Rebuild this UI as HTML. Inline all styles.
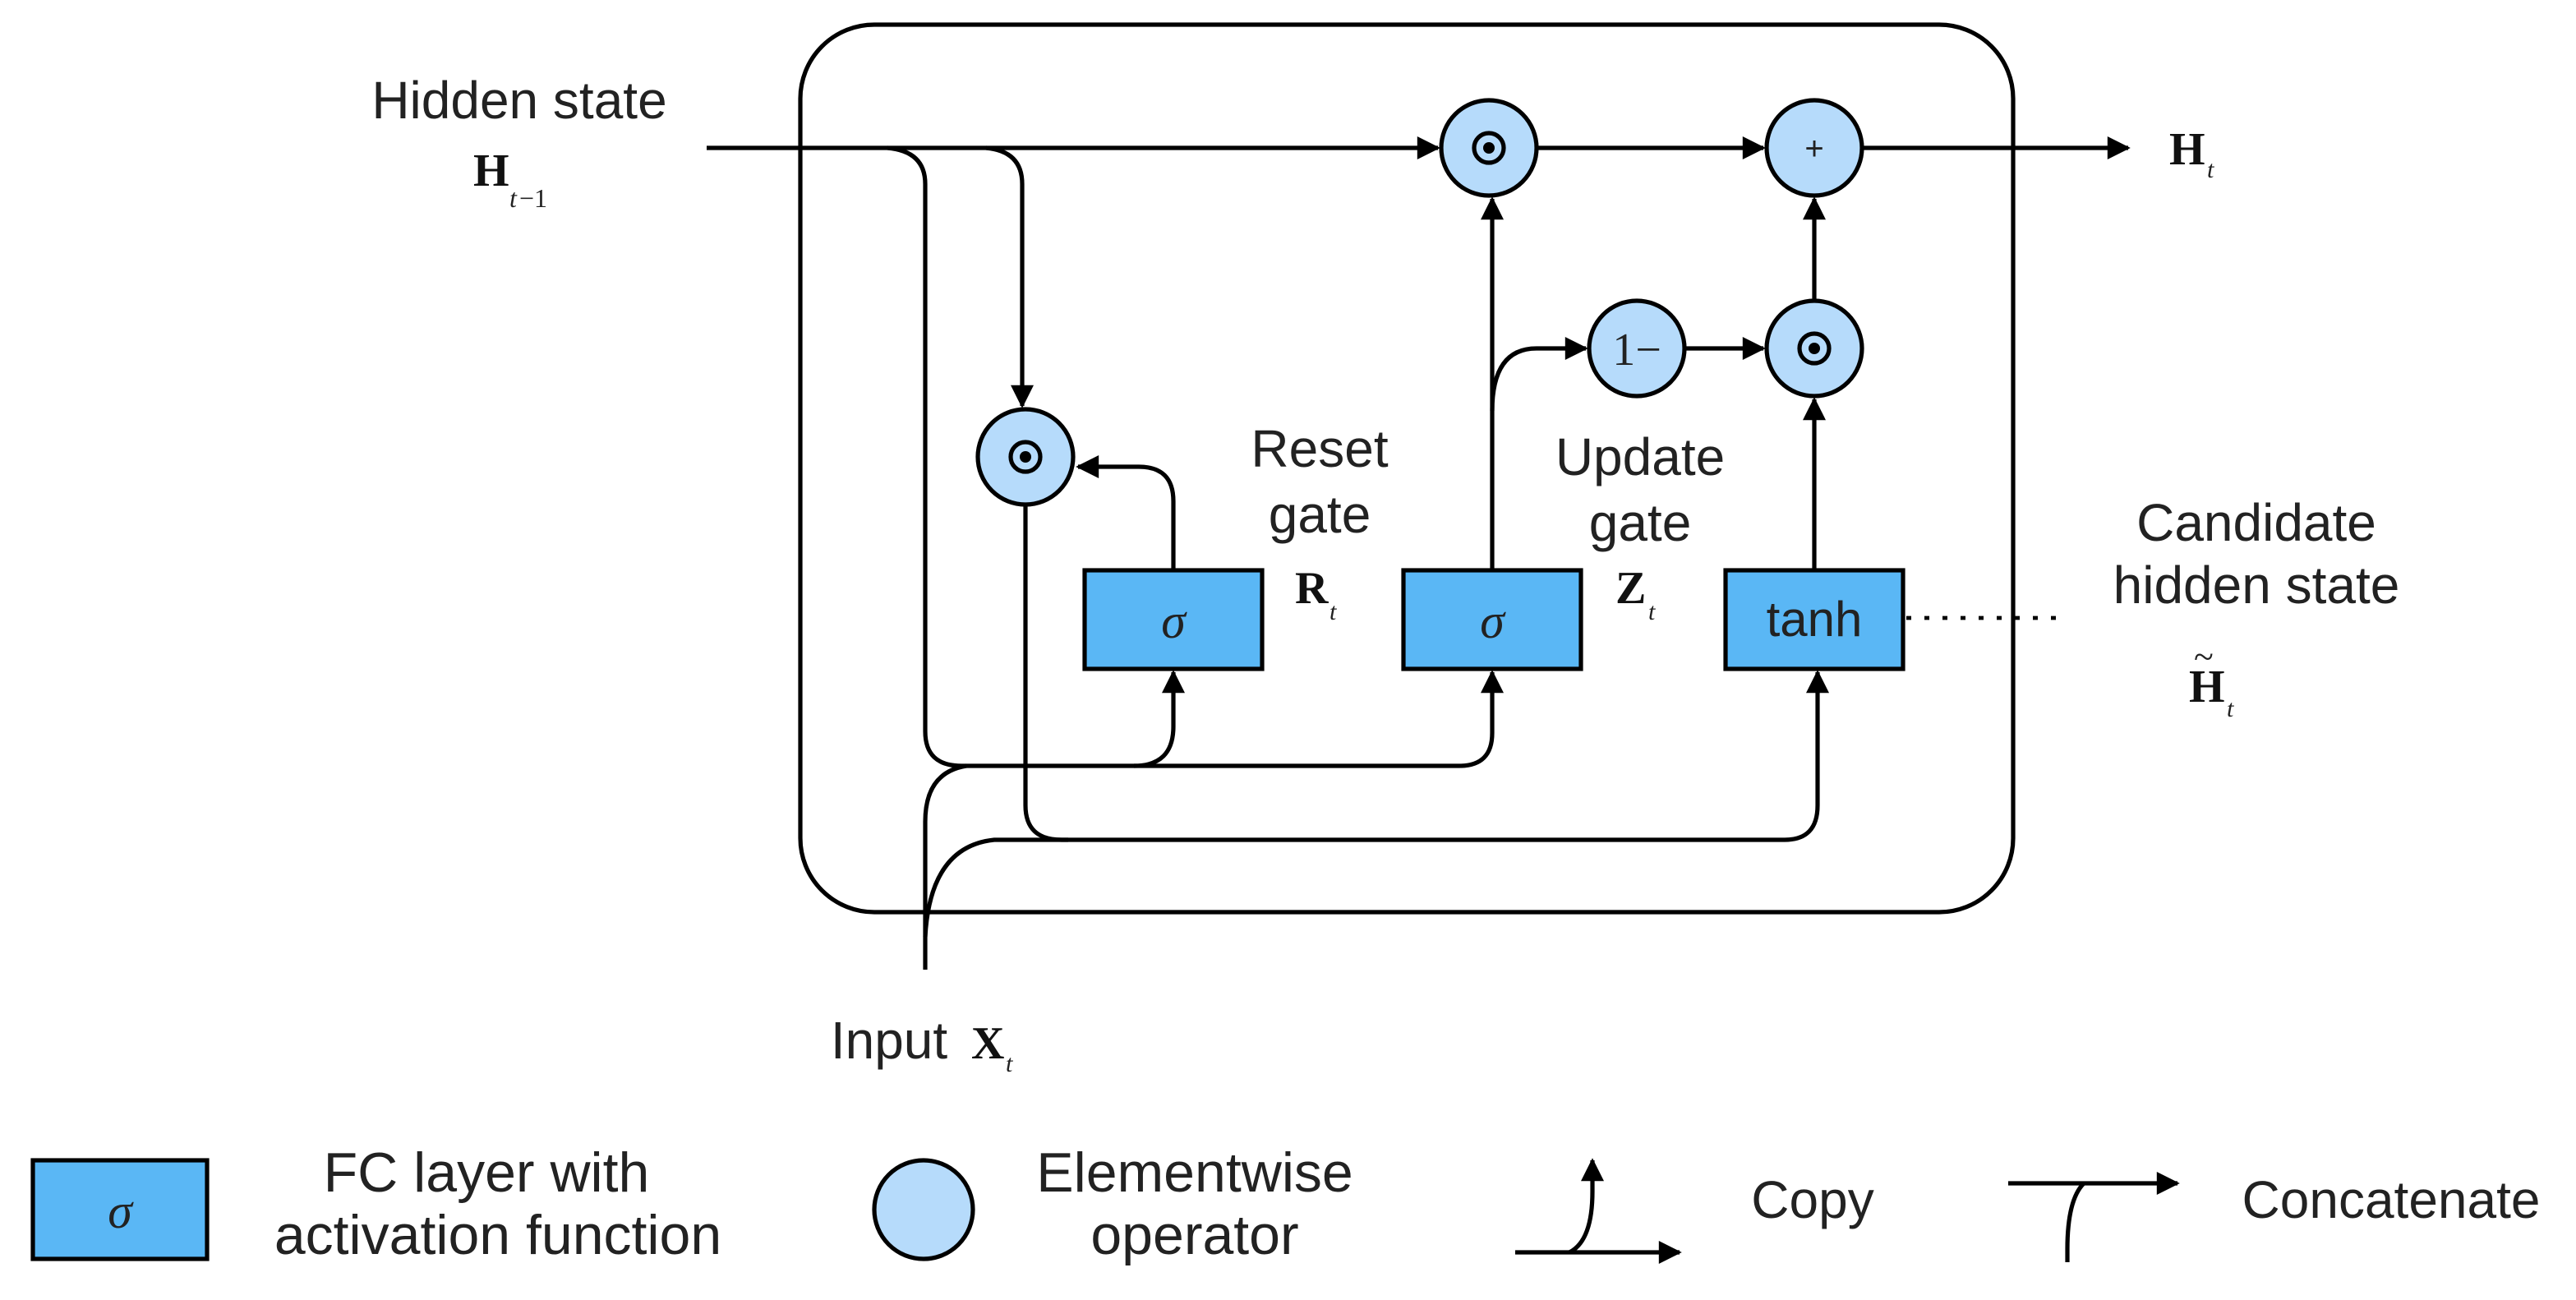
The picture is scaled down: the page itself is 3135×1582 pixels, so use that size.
<!DOCTYPE html>
<html><head><meta charset="utf-8"><style>
html,body{margin:0;padding:0;background:#fff;}
svg{display:block;}
text{font-family:"Liberation Sans",sans-serif;fill:#222;}
.s{font-family:"Liberation Serif",serif;font-weight:bold;fill:#111;}
</style></head><body>
<svg width="3135" height="1582" viewBox="0 0 1567.5 791" xmlns="http://www.w3.org/2000/svg">
<defs>
<marker id="b" viewBox="0 0 10 10" refX="9" refY="5" markerWidth="16" markerHeight="14" orient="auto" markerUnits="userSpaceOnUse">
<path d="M0,0 L10,5 L0,10 z" fill="#000"/>
</marker>
</defs>
<g fill="none" stroke="#000" stroke-width="2.6">
<rect x="487" y="15" width="738" height="540" rx="45"/>
<path d="M430,90 L875,90" marker-end="url(#b)"/>
<path d="M935,90 L1073,90" marker-end="url(#b)"/>
<path d="M1133,90 L1295,90" marker-end="url(#b)"/>
<path d="M540,90 Q563,92 563,112 L563,445 Q563,466 585,466 L888,466 Q908,466 908,446 L908,409" marker-end="url(#b)"/>
<path d="M690,466 Q714,466 714,442 L714,409" marker-end="url(#b)"/>
<path d="M600,90 Q622,92 622,112 L622,247" marker-end="url(#b)"/>
<path d="M624,307 L624,490 Q624,511 646,511 L1086,511 Q1106,511 1106,490 L1106,409" marker-end="url(#b)"/>
<path d="M563,590 L563,500 Q563,470 588,466"/>
<path d="M563,570 Q566,515 605,511 L650,511"/>
<path d="M714,347 L714,305 Q714,284 693,284 L656,284" marker-end="url(#b)"/>
<path d="M908,347 L908,121" marker-end="url(#b)"/>
<path d="M908,250 Q908,212 935,212 L965,212" marker-end="url(#b)"/>
<path d="M1025,212 L1073,212" marker-end="url(#b)"/>
<path d="M1104,347 L1104,243" marker-end="url(#b)"/>
<path d="M1104,183 L1104,121" marker-end="url(#b)"/>
<path d="M1160,376 L1258,376" stroke-dasharray="3,8" stroke-width="2.4"/>
</g>
<g stroke="#000" stroke-width="2.6" fill="#b6dbfb">
<circle cx="624" cy="278" r="29"/>
<circle cx="906" cy="90" r="29"/>
<circle cx="1104" cy="90" r="29"/>
<circle cx="996" cy="212" r="29"/>
<circle cx="1104" cy="212" r="29"/>
<circle cx="562" cy="736" r="30"/>
</g>
<g fill="none" stroke="#000" stroke-width="2.6">
<circle cx="624" cy="278" r="9"/><circle cx="906" cy="90" r="9"/><circle cx="1104" cy="212" r="9"/>
</g>
<g fill="#000"><circle cx="624" cy="278" r="3.5"/><circle cx="906" cy="90" r="3.5"/><circle cx="1104" cy="212" r="3.5"/></g>
<text x="1104" y="97" font-size="20" text-anchor="middle">+</text>
<text x="996" y="222" font-size="28" text-anchor="middle" style="font-family:'Liberation Serif',serif">1−</text>
<g stroke="#000" stroke-width="2.6" fill="#5ab7f5">
<rect x="660" y="347" width="108" height="60"/>
<rect x="854" y="347" width="108" height="60"/>
<rect x="1050" y="347" width="108" height="60"/>
<rect x="20" y="706" width="106" height="60"/>
</g>
<g font-size="30" text-anchor="middle">
<text x="714" y="388" style="font-family:'Liberation Serif',serif;font-style:italic">σ</text>
<text x="908" y="388" style="font-family:'Liberation Serif',serif;font-style:italic">σ</text>
<text x="1104" y="387">tanh</text>
<text x="73" y="747" style="font-family:'Liberation Serif',serif;font-style:italic">σ</text>
</g>
<g font-size="32" text-anchor="middle">
<text x="316" y="72">Hidden state</text>
<text x="803" y="284">Reset</text><text x="803" y="324">gate</text>
<text x="998" y="289">Update</text><text x="998" y="329">gate</text>
<text x="1373" y="329">Candidate</text><text x="1373" y="367">hidden state</text>
<text x="1103" y="741">Copy</text>
<text x="1455" y="741">Concatenate</text>
<text x="541" y="644">Input</text>
</g>
<g font-size="34" text-anchor="middle">
<text x="296" y="725">FC layer with</text><text x="303" y="763">activation function</text>
<text x="727" y="725">Elementwise</text><text x="727" y="763">operator</text>
</g>
<text class="s" x="288" y="113" font-size="28">H</text><text x="310" y="126" font-size="16" style="font-family:'Liberation Serif',serif;font-style:italic">t</text><text x="316" y="126" font-size="16" style="font-family:'Liberation Serif',serif">−1</text>
<text class="s" x="1320" y="100" font-size="28">H</text><text x="1343" y="108" font-size="15" style="font-family:'Liberation Serif',serif;font-style:italic">t</text>
<text class="s" x="788" y="367" font-size="28">R</text><text x="809" y="377" font-size="15" style="font-family:'Liberation Serif',serif;font-style:italic">t</text>
<text class="s" x="983" y="367" font-size="28">Z</text><text x="1003" y="377" font-size="15" style="font-family:'Liberation Serif',serif;font-style:italic">t</text>
<text class="s" x="1332" y="427" font-size="28">H</text><text x="1335" y="407" font-size="22" style="font-family:'Liberation Serif',serif">~</text><text x="1355" y="436" font-size="15" style="font-family:'Liberation Serif',serif;font-style:italic">t</text>
<text class="s" x="591" y="644" font-size="28">X</text><text x="612" y="652" font-size="15" style="font-family:'Liberation Serif',serif;font-style:italic">t</text>
<g fill="none" stroke="#000" stroke-width="2.6">
<path d="M922,762 L1022,762" marker-end="url(#b)"/>
<path d="M955,762 Q969,755 969,725 L969,706" marker-end="url(#b)"/>
<path d="M1222,720 L1325,720" marker-end="url(#b)"/>
<path d="M1268,720 Q1258,730 1258,760 L1258,768"/>
</g>
</svg>
</body></html>
